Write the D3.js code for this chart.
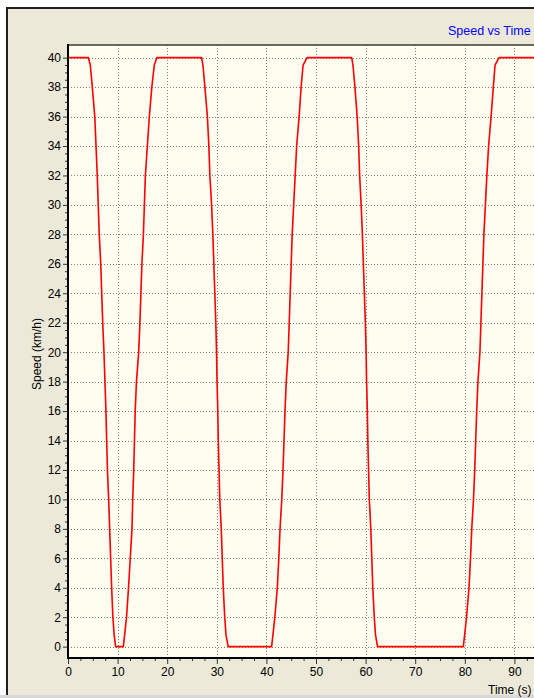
<!DOCTYPE html>
<html>
<head>
<meta charset="utf-8">
<script src="https://cdn.jsdelivr.net/npm/d3@7"></script>
<style>
  html, body { margin: 0; padding: 0; background: #ffffff; }
  svg { display: block; }
  text { font-family: "Liberation Sans", Arial, sans-serif; }
</style>
</head>
<body>
<svg id="chart" width="534" height="698"></svg>
<script>
// Speed profile samples: time (s) and speed (km/h)
const timeSec = [
  0, 4.1, 4.5, 4.9, 5.4, 5.65, 5.9, 6.1, 6.3, 6.6, 6.8, 7.0, 7.25, 7.45, 7.65, 7.8, 7.95, 8.2, 8.4, 8.6, 8.8, 9.05, 9.3, 9.6,
  11.15, 11.45, 11.8, 12.2, 12.55, 12.9, 13.05, 13.25, 13.4, 13.55, 13.8, 14.25, 14.5, 14.7, 14.9, 15.2, 15.4, 15.6, 16.0, 16.4, 16.9, 17.4, 17.9,
  26.95, 27.2, 27.6, 28.1, 28.4, 28.6, 28.95, 29.2, 29.4, 29.6, 29.8, 29.95, 30.05, 30.2, 30.3, 30.45, 30.6, 30.9, 31.1, 31.3, 31.6, 31.85, 32.3,
  41.05, 41.35, 41.7, 42.2, 42.5, 42.75, 43.1, 43.35, 43.55, 43.75, 44.0, 44.4, 44.6, 44.8, 45.0, 45.2, 45.5, 45.8, 46.1, 46.6, 47.0, 47.4, 48.2,
  57.2, 57.45, 57.85, 58.3, 58.6, 58.8, 59.1, 59.35, 59.55, 59.75, 59.95, 60.1, 60.2, 60.35, 60.45, 60.6, 60.75, 61.05, 61.25, 61.45, 61.75, 62.0, 62.4,
  79.7, 80.0, 80.35, 80.85, 81.15, 81.4, 81.75, 82.0, 82.2, 82.4, 82.65, 83.05, 83.25, 83.45, 83.65, 83.85, 84.15, 84.45, 84.8, 85.3, 85.75, 86.1, 86.9,
  100
];
const speedKmh = [
  40, 40, 39.5, 38, 36, 34, 32, 30, 28, 26, 24, 22, 20, 18, 16, 14, 12, 10, 8, 6, 4, 2, 0.8, 0,
  0, 0.9, 2, 4, 6, 8, 10, 12, 14, 16, 18, 20, 22, 24, 26, 28, 30, 32, 34, 36, 38, 39.5, 40,
  40, 39.5, 38, 36, 34, 32, 30, 28, 26, 24, 22, 20, 18, 16, 14, 12, 10, 8, 6, 4, 2, 0.8, 0,
  0, 0.9, 2, 4, 6, 8, 10, 12, 14, 16, 18, 20, 22, 24, 26, 28, 30, 32, 34, 36, 38, 39.5, 40,
  40, 39.5, 38, 36, 34, 32, 30, 28, 26, 24, 22, 20, 18, 16, 14, 12, 10, 8, 6, 4, 2, 0.8, 0,
  0, 0.9, 2, 4, 6, 8, 10, 12, 14, 16, 18, 20, 22, 24, 26, 28, 30, 32, 34, 36, 38, 39.5, 40,
  40
];

// Axis ticks
const xMajorTicks = [0, 10, 20, 30, 40, 50, 60, 70, 80, 90];
const yMajorTicks = [0, 2, 4, 6, 8, 10, 12, 14, 16, 18, 20, 22, 24, 26, 28, 30, 32, 34, 36, 38, 40];
const xMinorStep = 2.5;
const yMinorStep = 0.5;

const chartTitle = "Speed vs Time";
const xTitle = "Time (s)";
const yTitle = "Speed (km/h)";

const svg = d3.select("#chart");

// Plot rectangle
const plot = { left: 68, top: 45, right: 564, bottom: 658 };

const x = d3.scaleLinear().domain([0, 100]).range([plot.left, plot.right]);
const y = d3.scaleLinear().domain([-0.77, 40.86]).range([plot.bottom, plot.top]);

// Outer panel with a sunken frame
svg.append("rect").attr("x", 0).attr("y", 0).attr("width", 534).attr("height", 698).attr("fill", "#ffffff");
svg.append("rect").attr("x", 6).attr("y", 7).attr("width", 540).attr("height", 688).attr("fill", "#ECE9D8");
svg.append("line").attr("x1", 7).attr("x2", 7).attr("y1", 7).attr("y2", 695).attr("stroke", "#1e1e1e").attr("stroke-width", 2);
svg.append("line").attr("x1", 6).attr("x2", 540).attr("y1", 8).attr("y2", 8).attr("stroke", "#1e1e1e").attr("stroke-width", 2);
svg.append("rect").attr("x", 0).attr("y", 695).attr("width", 534).attr("height", 3).attr("fill", "#d8d8d8");

// Plot background
svg.append("rect")
  .attr("x", plot.left).attr("y", plot.top)
  .attr("width", plot.right - plot.left).attr("height", plot.bottom - plot.top)
  .attr("fill", "#FFFCF0");

// Dotted grid
const grid = svg.append("g").attr("stroke", "#808080").attr("stroke-width", 1).attr("stroke-dasharray", "1,2");
grid.selectAll(".gx").data(xMajorTicks.filter(d => d > 0)).join("line")
  .attr("x1", d => Math.round(x(d)) + 0.5).attr("x2", d => Math.round(x(d)) + 0.5)
  .attr("y1", plot.top).attr("y2", plot.bottom);
grid.selectAll(".gy").data(yMajorTicks).join("line")
  .attr("y1", d => Math.round(y(d)) + 0.5).attr("y2", d => Math.round(y(d)) + 0.5)
  .attr("x1", plot.left).attr("x2", plot.right);

// Speed trace
const pts = timeSec.map((t, i) => [t, speedKmh[i]]);
const line = d3.line().x(d => x(d[0])).y(d => y(d[1]));
svg.append("path").datum(pts)
  .attr("d", line)
  .attr("fill", "none")
  .attr("stroke", "#ff0000")
  .attr("stroke-width", 1.6)
  .attr("stroke-linejoin", "round");

// Minor tick values
const xMinor = d3.range(0, 100 + 1e-9, xMinorStep).filter(v => !xMajorTicks.includes(v) && v !== 100);
const yMinor = d3.range(0, 40 + 1e-9, yMinorStep).filter(v => !yMajorTicks.includes(v));

// X axis
const xAxis = d3.axisBottom(x).tickValues(xMajorTicks).tickSize(6).tickPadding(3).tickFormat(d3.format("d"));
const gx = svg.append("g").attr("transform", `translate(0,${plot.bottom})`).call(xAxis);
gx.select(".domain").remove();
gx.selectAll("line").attr("stroke", "#333").attr("stroke-width", 1);
gx.selectAll("text").attr("font-size", 12).attr("fill", "#000").attr("font-family", "Liberation Sans, Arial, sans-serif");
const xMinorAxis = d3.axisBottom(x).tickValues(xMinor).tickSize(3).tickFormat("");
const gxm = svg.append("g").attr("transform", `translate(0,${plot.bottom})`).call(xMinorAxis);
gxm.select(".domain").remove();
gxm.selectAll("line").attr("stroke", "#333");

// Y axis
const yAxis = d3.axisLeft(y).tickValues(yMajorTicks).tickSize(5).tickPadding(2).tickFormat(d3.format("d"));
const gy = svg.append("g").attr("transform", `translate(${plot.left},0)`).call(yAxis);
gy.select(".domain").remove();
gy.selectAll("line").attr("stroke", "#333");
gy.selectAll("text").attr("font-size", 12).attr("fill", "#000").attr("font-family", "Liberation Sans, Arial, sans-serif");
const yMinorAxis = d3.axisLeft(y).tickValues(yMinor).tickSize(3).tickFormat("");
const gym = svg.append("g").attr("transform", `translate(${plot.left},0)`).call(yMinorAxis);
gym.select(".domain").remove();
gym.selectAll("line").attr("stroke", "#333");

// Plot frame: heavy left and bottom axes, darker top edge
svg.append("line").attr("x1", plot.left).attr("x2", plot.right).attr("y1", plot.top).attr("y2", plot.top)
  .attr("stroke", "#3a3a3a").attr("stroke-width", 1.5);
svg.append("line").attr("x1", plot.left).attr("x2", plot.left).attr("y1", plot.top - 1).attr("y2", plot.bottom + 1)
  .attr("stroke", "#000").attr("stroke-width", 2);
svg.append("line").attr("x1", plot.left - 1).attr("x2", plot.right).attr("y1", plot.bottom).attr("y2", plot.bottom)
  .attr("stroke", "#000").attr("stroke-width", 2);

// Titles
svg.append("text").attr("x", 448).attr("y", 35)
  .attr("font-size", 12.5).attr("fill", "#0000ff").text(chartTitle);
svg.append("text").attr("x", 488).attr("y", 694)
  .attr("font-size", 12).attr("fill", "#000").text(xTitle);
svg.append("text").attr("transform", "translate(41,354) rotate(-90)")
  .attr("text-anchor", "middle").attr("font-size", 12).attr("fill", "#000").text(yTitle);
</script>
</body>
</html>
